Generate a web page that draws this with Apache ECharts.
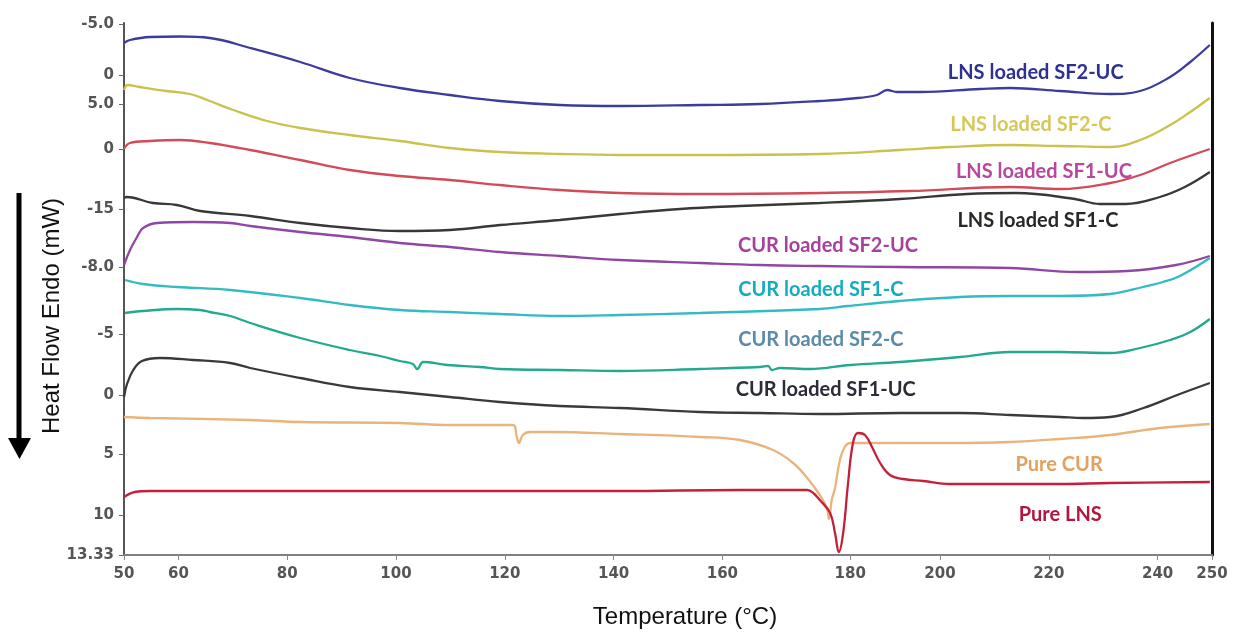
<!DOCTYPE html>
<html>
<head>
<meta charset="utf-8">
<script src="https://cdn.jsdelivr.net/npm/echarts@6/dist/echarts.min.js"></script>
<style>
  html, body { margin: 0; padding: 0; background: #fff; }
  #dsc-chart { width: 1234px; height: 632px; }
</style>
</head>
<body>
<div id="dsc-chart"></div>
<script>
// tick labels of the scanned figure (y labels are offset per curve group)
var xTickValues = [50, 60, 80, 100, 120, 140, 160, 183.5, 200, 220, 240, 250];
var xTickLabels = ['50', '60', '80', '100', '120', '140', '160', '180', '200', '220', '240', '250'];
var yTickValues = [53.1, 48.0, 45.1, 40.6, 34.6, 28.8, 22.1, 16.0, 10.1, 4.0, 0];
var yTickLabels = ['-5.0', '0', '5.0', '0', '-15', '-8.0', '-5', '0', '5', '10', '13.33'];

var seriesNames = [
  'LNS loaded SF2-UC', 'LNS loaded SF2-C', 'LNS loaded SF1-UC', 'LNS loaded SF1-C',
  'CUR loaded SF2-UC', 'CUR loaded SF1-C', 'CUR loaded SF2-C', 'CUR loaded SF1-UC',
  'Pure CUR', 'Pure LNS'
];

// [temperature °C, stacked heat flow offset]
var lnsSf2Uc = [[50, 51.2], [51.1, 51.5], [54.8, 51.8], [60.3, 51.85], [65.8, 51.7], [73.2, 50.7], [82.4, 49.3],
  [91.5, 47.7], [100.7, 46.7], [109.9, 46.0], [119.1, 45.4], [130.1, 45.0], [141.2, 44.9], [155.9, 45.0],
  [166.9, 45.1], [177.9, 45.4], [184, 45.65], [188.4, 46.0], [190.3, 46.5], [192.1, 46.3], [196.3, 46.3],
  [207.4, 46.6], [212.9, 46.7], [222.1, 46.4], [231.3, 46.1], [236.8, 46.4], [242.3, 47.8], [246, 49.3], [249.6, 51.0]];
var lnsSf2C = [[50, 46.5], [50.7, 47.0], [52.9, 46.8], [57.8, 46.4], [62.1, 46.1], [65.3, 45.5], [70.1, 44.5],
  [76.3, 43.4], [82.4, 42.7], [91.5, 42.0], [100.7, 41.4], [109.9, 40.7], [119.1, 40.3], [130.1, 40.1],
  [141.2, 40.0], [155.9, 40.0], [177.9, 40.1], [192.6, 40.5], [201.8, 40.8], [212.9, 41.0], [222.1, 40.9],
  [231.3, 40.8], [236.8, 41.5], [242.3, 43.0], [246, 44.3], [249.6, 45.7]];
var lnsSf1Uc = [[50, 40.6], [51.1, 41.2], [54.8, 41.4], [60.3, 41.5], [65.8, 41.2], [73.2, 40.5], [82.4, 39.5],
  [91.5, 38.5], [100.7, 37.9], [109.9, 37.5], [119.1, 37.0], [130.1, 36.5], [141.2, 36.2], [155.9, 36.1],
  [177.9, 36.2], [194.4, 36.4], [212.9, 36.8], [222.1, 36.6], [231.3, 37.2], [236.8, 38.0], [242.3, 39.2], [249.6, 40.6]];
var lnsSf1C = [[50, 35.7], [50.5, 35.8], [55.3, 35.2], [59.7, 35.0], [64, 34.4], [73.2, 33.9], [82.4, 33.2],
  [91.5, 32.7], [100.7, 32.4], [109.9, 32.5], [119.1, 33.0], [130.1, 33.5], [141.2, 34.1], [152.2, 34.6],
  [163.2, 34.9], [177.9, 35.2], [192.6, 35.6], [205, 36.1], [214, 36.2], [224.8, 35.6], [229.4, 35.1],
  [234.1, 35.1], [240.4, 35.8], [245, 36.8], [249.6, 38.3]];
var curSf2Uc = [[50, 29.0], [51.1, 30.5], [52.4, 31.8], [53.5, 32.7], [56.1, 33.2], [62.7, 33.3], [69.5, 33.2],
  [73.2, 32.9], [82.4, 32.3], [91.5, 31.8], [100.7, 31.2], [109.9, 30.8], [119.1, 30.3], [130.1, 29.9],
  [141.2, 29.5], [155.9, 29.2], [166.9, 29.0], [177.9, 28.9], [192.6, 28.8], [212.9, 28.7], [225.2, 28.3],
  [234.4, 28.4], [243.4, 29.0], [249.6, 29.9]];
var curSf1C = [[50.2, 27.5], [53.5, 27.1], [59.7, 26.8], [69.5, 26.5], [82.4, 25.7], [91.5, 25.0], [100.7, 24.5],
  [109.9, 24.3], [119.1, 24.1], [130.1, 23.9], [141.2, 24.0], [155.9, 24.2], [177.9, 24.6], [183, 24.9],
  [192.6, 25.4], [203.7, 25.8], [212.9, 25.9], [222.1, 25.9], [231.3, 26.1], [237.3, 26.8], [241, 27.3],
  [244.1, 27.9], [249.6, 29.7]];
var curSf2C = [[50.2, 24.2], [53.5, 24.4], [59.7, 24.6], [64.0, 24.5], [65.8, 24.3], [69.5, 23.9], [73.2, 23.2],
  [82.4, 21.7], [91.5, 20.5], [97.1, 19.9], [100.7, 19.4], [103.1, 19.1], [103.9, 18.6], [105.0, 19.3],
  [109.4, 19.0], [115.4, 18.8], [119.1, 18.6], [130.1, 18.5], [141.2, 18.4], [155.9, 18.6], [166.9, 18.8],
  [168.4, 18.9], [169.1, 18.5], [170.6, 18.7], [176.1, 18.6], [183.5, 19.0], [192.6, 19.3], [203.7, 19.8],
  [212.9, 20.3], [222.1, 20.3], [231.3, 20.2], [236.8, 20.7], [242.3, 21.5], [246, 22.3], [249.6, 23.6]];
var curSf1Uc = [[50, 15.8], [50.5, 17.0], [51.7, 18.5], [53.3, 19.4], [56.6, 19.7], [62.7, 19.5], [69.5, 19.2],
  [73.2, 18.7], [82.4, 17.7], [91.5, 16.8], [100.7, 16.3], [109.9, 15.8], [119.1, 15.3], [130.1, 14.9],
  [141.2, 14.7], [155.9, 14.3], [166.9, 14.2], [177.9, 14.1], [192.6, 14.2], [203.7, 14.2], [212.9, 14.0],
  [222.1, 13.8], [226.3, 13.7], [231.3, 13.8], [237.4, 14.7], [243.6, 16.0], [249.6, 17.2]];
var pureCur = [[50, 13.8], [54.8, 13.7], [73.2, 13.5], [82.4, 13.3], [100.7, 13.2], [109.9, 13.0], [121.5, 13.0],
  [122.2, 11.8], [122.6, 11.2], [123.3, 12.0], [124.6, 12.3], [128.9, 12.3], [141.2, 12.1], [155.9, 11.8],
  [163.2, 11.5], [169.3, 10.5], [173.0, 9.2], [175.6, 7.7], [177.9, 6.0], [179.2, 4.7], [179.6, 3.6],
  [180.1, 5.5], [180.7, 6.7], [181.6, 9.5], [182.5, 10.8], [183.5, 11.2], [189.0, 11.2], [201.8, 11.2],
  [212.9, 11.3], [222.1, 11.6], [231.3, 12.0], [240.4, 12.7], [249.6, 13.1]];
var pureLns = [[50, 5.8], [52, 6.3], [54.8, 6.4], [82.4, 6.4], [141.2, 6.4], [163.2, 6.5], [175.6, 6.5],
  [176.7, 6.2], [177.9, 5.5], [179.8, 4.2], [180.7, 2.2], [181.4, 0.3], [182.2, 2.2], [183.1, 7.2],
  [184.0, 11.2], [184.9, 12.2], [186.2, 12.0], [187.5, 10.8], [189.0, 9.2], [190.8, 8.0], [193.2, 7.6],
  [196.9, 7.4], [201.8, 7.1], [212.9, 7.1], [222.1, 7.1], [231.3, 7.2], [249.6, 7.3]];

var curves = [lnsSf2Uc, lnsSf2C, lnsSf1Uc, lnsSf1C, curSf2Uc, curSf1C, curSf2C, curSf1Uc, pureCur, pureLns];

// where each curve name is written, [temperature, offset]
var labelAt = [[217.6, 48.2], [216.7, 43.0], [219.1, 38.3], [218.0, 33.4], [179.4, 30.9],
  [178.1, 26.5], [178.1, 21.5], [179.0, 16.5], [221.9, 9.0], [222.1, 4.0]];

var lineColors = ['#3c3c9c', '#c9c24c', '#d34a58', '#383838', '#8f47a3',
  '#34bac3', '#22a98f', '#3a3a3a', '#e9b47c', '#c4203a'];
var textColors = ['#2e3192', '#d6c75a', '#b9479f', '#262a24', '#a6429b',
  '#14adbf', '#5a8bab', '#2e2a38', '#e3a060', '#b3163e'];

function pickLabel(values, labels, v) {
  for (var i = 0; i < values.length; i++) {
    if (Math.abs(values[i] - v) < 1e-6) return labels[i];
  }
  return '';
}

var tickFont = { fontFamily: 'DejaVu Sans', fontWeight: 'bold', fontSize: 15, color: '#555' };

var series = curves.map(function (d, i) {
  return {
    name: seriesNames[i],
    type: 'line',
    data: d,
    showSymbol: false,
    smooth: 0.4,
    lineStyle: { color: lineColors[i], width: 2.3 },
    markPoint: {
      symbol: 'circle',
      symbolSize: 0,
      silent: true,
      label: {
        show: true,
        position: 'inside',
        formatter: seriesNames[i],
        color: textColors[i],
        fontFamily: 'Lato',
        fontWeight: 'bold',
        fontSize: 20
      },
      data: [{ coord: labelAt[i] }]
    }
  };
});

var myChart = echarts.init(document.getElementById('dsc-chart'));
var option = {
  animation: false,
  backgroundColor: '#fff',
  grid: { left: 124, right: 22, top: 23, bottom: 77 },
  xAxis: {
    type: 'value',
    min: 50,
    max: 250,
    splitLine: { show: false },
    axisLine: { onZero: false, lineStyle: { color: '#808080', width: 2 } },
    axisTick: { customValues: xTickValues, length: 5, lineStyle: { color: '#888' } },
    axisLabel: Object.assign({
      customValues: xTickValues,
      margin: 12,
      formatter: function (v) { return pickLabel(xTickValues, xTickLabels, v); }
    }, tickFont)
  },
  yAxis: [{
    type: 'value',
    min: 0,
    max: 53.2,
    splitLine: { show: false },
    axisLine: { show: true, onZero: false, lineStyle: { color: '#555', width: 2 } },
    axisTick: { show: true, customValues: yTickValues, length: 5, lineStyle: { color: '#666' } },
    axisLabel: Object.assign({
      customValues: yTickValues,
      margin: 10,
      formatter: function (v) { return pickLabel(yTickValues, yTickLabels, v); }
    }, tickFont)
  }, {
    type: 'value',
    position: 'right',
    min: 0,
    max: 53.2,
    splitLine: { show: false },
    axisLine: { show: true, onZero: false, lineStyle: { color: '#111', width: 3 } },
    axisTick: { show: false },
    axisLabel: { show: false }
  }],
  graphic: [
    { type: 'line', shape: { x1: 19, y1: 193, x2: 19, y2: 442 }, style: { stroke: '#000', lineWidth: 5 } },
    { type: 'polygon', shape: { points: [[8, 438], [31, 438], [19.5, 459]] }, style: { fill: '#000' } },
    {
      type: 'text', x: 52, y: 316, rotation: Math.PI / 2,
      style: { text: 'Heat Flow Endo (mW)', fill: '#111', font: '24px "Liberation Sans", Arial, sans-serif',
        align: 'center', verticalAlign: 'middle' }
    },
    {
      type: 'text', x: 685, y: 617,
      style: { text: 'Temperature (°C)', fill: '#111', font: '24px "Liberation Sans", Arial, sans-serif',
        align: 'center', verticalAlign: 'middle' }
    }
  ],
  series: series
};
myChart.setOption(option);
</script>
</body>
</html>
